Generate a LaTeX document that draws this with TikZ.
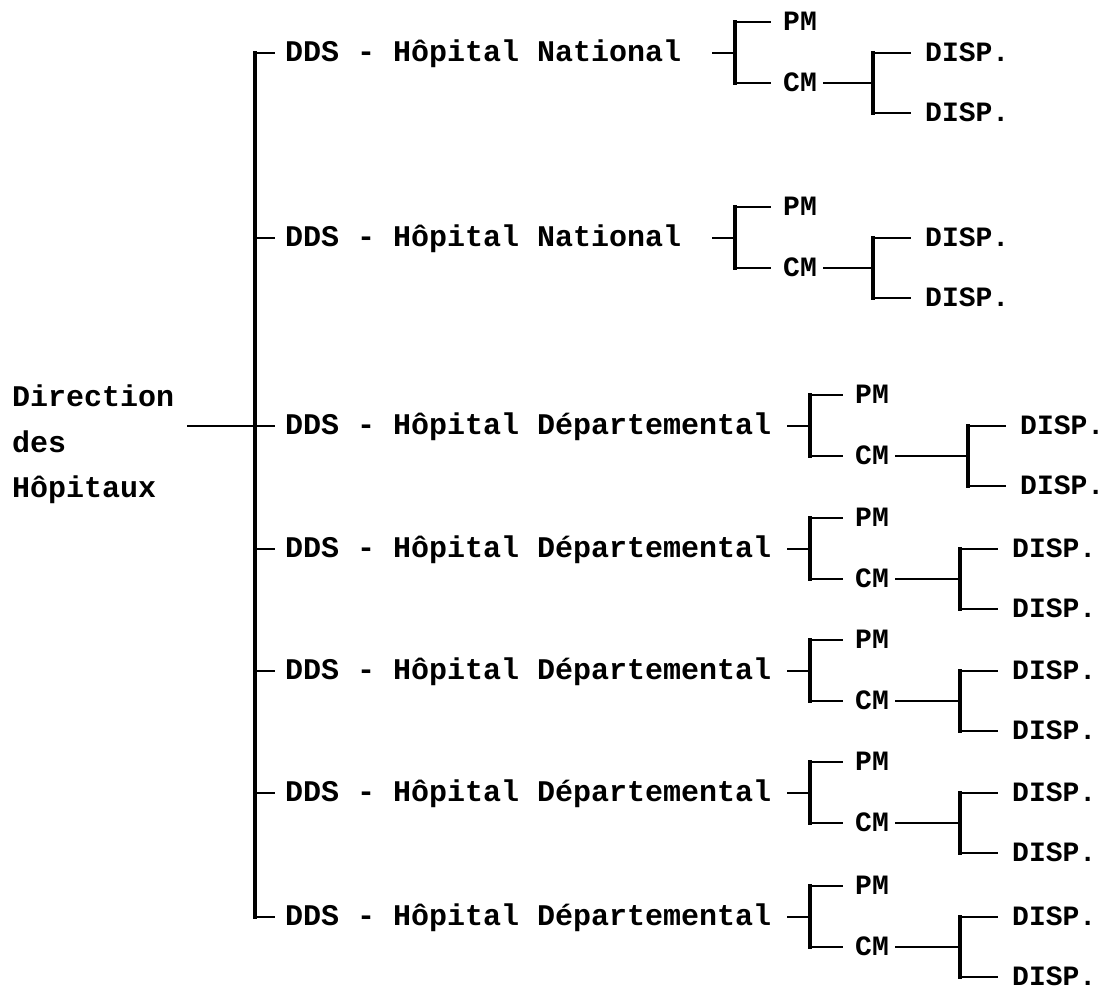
\documentclass[tikz,border=0pt]{standalone}
\usepackage{fontspec}
\newfontfamily\tw{Liberation Mono}
\usetikzlibrary{calc}
\tikzset{
  big/.style={font=\tw\bfseries\fontsize{30}{30}\selectfont, anchor=base west, inner sep=0pt},
  small/.style={font=\tw\bfseries\fontsize{28}{28}\selectfont, anchor=base west, inner sep=0pt},
  mainbar/.style={line width=4.5pt, line cap=rect},
  brk/.style={line width=3.5pt, line cap=rect},
  tk/.style={line width=2pt},
}
% #1 id, #2 centre y, #3 hospital kind, #4 first bracket x, #5 PM/CM x, #6 second bracket x, #7 DISP x
\newcommand\hosprow[7]{%
  \coordinate (m#1) at (255,#2);
  \node[big] (dds#1) at (285,#2+8.5) {DDS - Hôpital #3};
  \draw[tk] (m#1) -- ($(dds#1.west |- m#1)+(-10,0)$);
  \coordinate (a#1) at (#4,#2);
  \coordinate (at#1) at (#4,#2-31);
  \coordinate (ab#1) at (#4,#2+30);
  \draw[tk] ($(a#1)+(-23,0)$) -- (a#1);
  \draw[brk] (at#1) -- (ab#1);
  \node[small] (pm#1) at (#5,#2-31+8) {PM};
  \node[small] (cm#1) at (#5,#2+30+8) {CM};
  \draw[tk] (at#1) -- ($(pm#1.west |- at#1)+(-12,0)$);
  \draw[tk] (ab#1) -- ($(cm#1.west |- ab#1)+(-12,0)$);
  \coordinate (c#1) at (#6,#2+30);
  \coordinate (ct#1) at (#6,#2);
  \coordinate (cb#1) at (#6,#2+60);
  \draw[tk] ($(cm#1.east |- c#1)+(6,0)$) -- (c#1);
  \draw[brk] (ct#1) -- (cb#1);
  \node[small] (da#1) at (#7,#2+8) {DISP.};
  \node[small] (db#1) at (#7,#2+68) {DISP.};
  \draw[tk] (ct#1) -- ($(da#1.west |- ct#1)+(-14,0)$);
  \draw[tk] (cb#1) -- ($(db#1.west |- cb#1)+(-14,0)$);
}
\begin{document}
\begin{tikzpicture}[x=1pt,y=-1pt]
  \fill[white] (0,0) rectangle (1107,989);
  \useasboundingbox (0,0) rectangle (1107,989);
  \hosprow{1}{53}{National}{735}{783}{873}{925}
  \hosprow{2}{238}{National}{735}{783}{873}{925}
  \hosprow{3}{426}{Départemental}{810}{855}{968}{1020}
  \hosprow{4}{549}{Départemental}{810}{855}{960}{1012}
  \hosprow{5}{671}{Départemental}{810}{855}{960}{1012}
  \hosprow{6}{793}{Départemental}{810}{855}{960}{1012}
  \hosprow{7}{917}{Départemental}{810}{855}{960}{1012}
  \draw[mainbar] (m1) -- (m7);
  \node[big] (dir1) at (12,406) {Direction};
  \node[big] (dir2) at (12,452) {des};
  \node[big] (dir3) at (12,497) {Hôpitaux};
  \draw[tk] ($(dir1.east |- m3)+(13,0)$) -- (m3);
\end{tikzpicture}
\end{document}
